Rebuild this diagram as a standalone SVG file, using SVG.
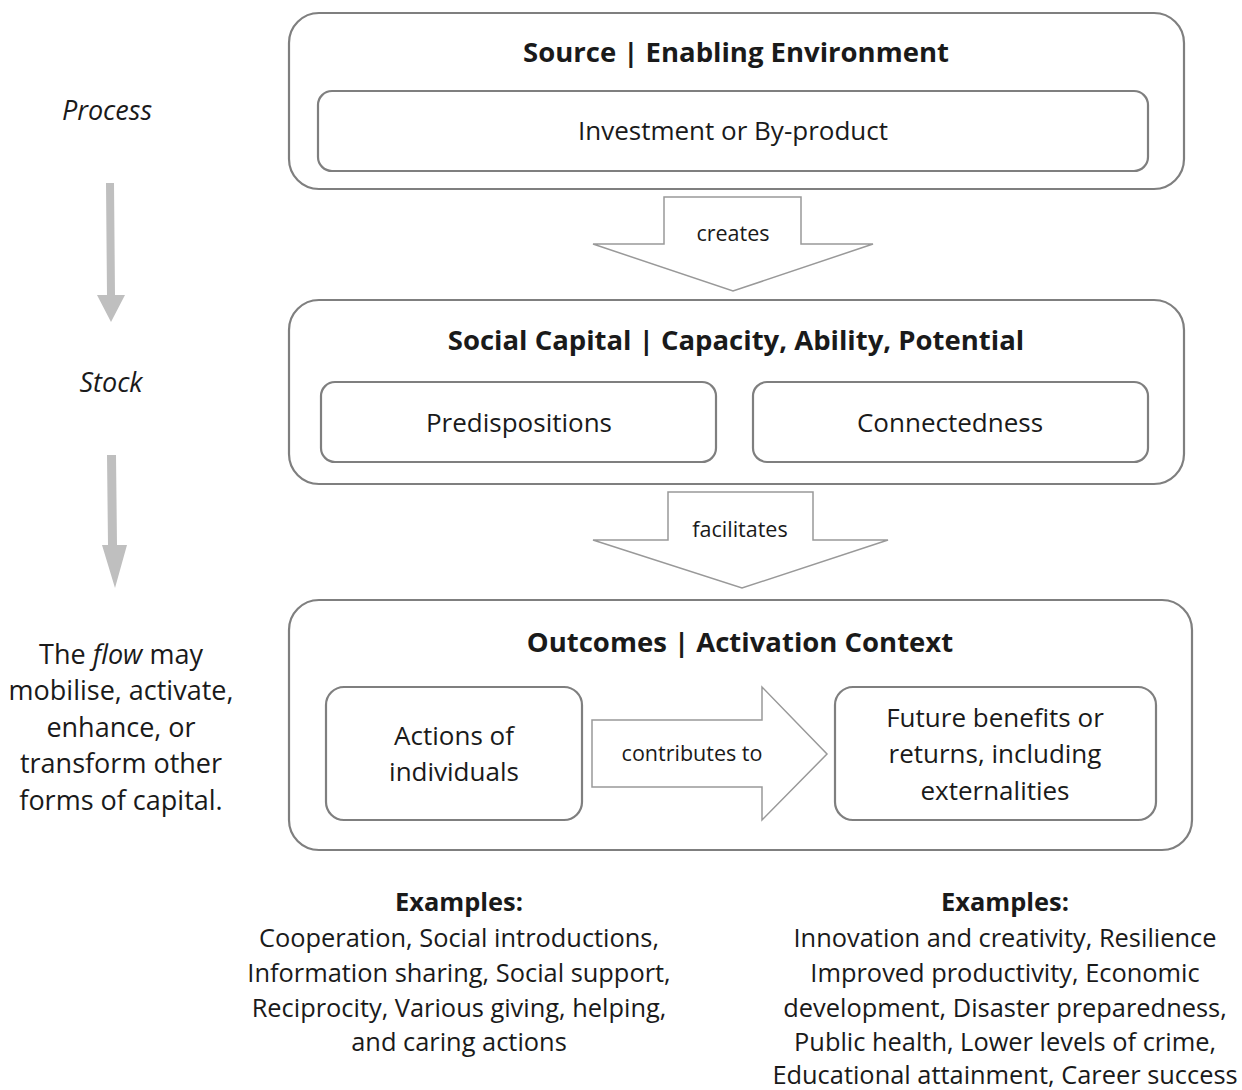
<svg xmlns="http://www.w3.org/2000/svg" width="1242" height="1090" viewBox="0 0 1242 1090">
  <style>
    text { font-family: "Open Sans", "Noto Sans", "Liberation Sans", sans-serif; fill: #1a1a1a; text-anchor: middle; }
    .outer { fill: #ffffff; stroke: #7f7f7f; stroke-width: 2.2; }
    .inner { fill: #ffffff; stroke: #7f7f7f; stroke-width: 2.2; }
    .title { font-size: 27.5px; font-weight: bold; }
    .label { font-size: 26px; }
    .ex { font-size: 25.4px; }
    .arrowlbl { font-size: 21.5px; }
    .block { fill: #ffffff; stroke: #999999; stroke-width: 1.5; }
    .side { font-size: 27px; }
    .flowarrow { fill: #bfbfbf; }
  </style>
  <rect width="1242" height="1090" fill="#ffffff"/>

  <!-- side column: process / stock / flow -->
  <g id="side-labels">
    <text class="side" x="107" y="120" font-style="italic">Process</text>
    <text class="side" x="111" y="392" font-style="italic">Stock</text>
    <text class="side" x="121" y="664">The <tspan font-style="italic">flow</tspan> may</text>
    <text class="side" x="121" y="700">mobilise, activate,</text>
    <text class="side" x="121" y="737">enhance, or</text>
    <text class="side" x="121" y="773">transform other</text>
    <text class="side" x="121" y="810">forms of capital.</text>
  </g>
  <g id="side-arrows">
    <path class="flowarrow" d="M106,183 L114,183 L115,295 L125,295 L111,322 L97,295 L107,295 Z"/>
    <path class="flowarrow" d="M107,455 L116,455 L117,545 L127,545 L115,588 L102,545 L108,545 Z"/>
  </g>

  <!-- source box -->
  <g id="source">
    <rect class="outer" x="289" y="13" width="895" height="176" rx="30"/>
    <text class="title" x="736" y="62">Source | Enabling Environment</text>
  </g>
  <g id="investment">
    <rect class="inner" x="318" y="91" width="830" height="80" rx="14"/>
    <text class="label" x="733" y="140">Investment or By-product</text>
  </g>

  <!-- social capital box -->
  <g id="social-capital">
    <rect class="outer" x="289" y="300" width="895" height="184" rx="30"/>
    <text class="title" x="736" y="350">Social Capital | Capacity, Ability, Potential</text>
  </g>
  <g id="predispositions">
    <rect class="inner" x="321" y="382" width="395" height="80" rx="14"/>
    <text class="label" x="519" y="432">Predispositions</text>
  </g>
  <g id="connectedness">
    <rect class="inner" x="753" y="382" width="395" height="80" rx="14"/>
    <text class="label" x="950" y="432">Connectedness</text>
  </g>

  <!-- outcomes box -->
  <g id="outcomes">
    <rect class="outer" x="289" y="600" width="903" height="250" rx="30"/>
    <text class="title" x="740" y="652">Outcomes | Activation Context</text>
  </g>
  <g id="actions">
    <rect class="inner" x="326" y="687" width="256" height="133" rx="18"/>
    <text class="label" x="454" y="745">Actions of</text>
    <text class="label" x="454" y="781">individuals</text>
  </g>
  <g id="benefits">
    <rect class="inner" x="835" y="687" width="321" height="133" rx="18"/>
    <text class="label" x="995" y="727">Future benefits or</text>
    <text class="label" x="995" y="763">returns, including</text>
    <text class="label" x="995" y="800">externalities</text>
  </g>

  <!-- block arrows between stages -->
  <g id="connectors">
    <g id="creates">
      <path class="block" d="M664,197 L801,197 L801,244 L873,244 L733,291 L593,244 L664,244 Z"/>
      <text class="arrowlbl" x="733" y="241">creates</text>
    </g>
    <g id="facilitates">
      <path class="block" d="M668,492 L813,492 L813,540 L888,540 L742,588 L593,540 L668,540 Z"/>
      <text class="arrowlbl" x="740" y="537">facilitates</text>
    </g>
    <g id="contributes">
      <path class="block" d="M592,720 L762,720 L762,687 L827,754 L762,820 L762,787 L592,787 Z"/>
      <text class="arrowlbl" x="692" y="761">contributes to</text>
    </g>
  </g>

  <!-- example lists -->
  <g id="examples-actions">
    <text class="ex" x="459" y="911" font-weight="bold">Examples:</text>
    <text class="ex" x="459" y="947">Cooperation, Social introductions,</text>
    <text class="ex" x="459" y="982">Information sharing, Social support,</text>
    <text class="ex" x="459" y="1017">Reciprocity, Various giving, helping,</text>
    <text class="ex" x="459" y="1051">and caring actions</text>
  </g>
  <g id="examples-benefits">
    <text class="ex" x="1005" y="911" font-weight="bold">Examples:</text>
    <text class="ex" x="1005" y="947">Innovation and creativity, Resilience</text>
    <text class="ex" x="1005" y="982">Improved productivity, Economic</text>
    <text class="ex" x="1005" y="1017">development, Disaster preparedness,</text>
    <text class="ex" x="1005" y="1051">Public health, Lower levels of crime,</text>
    <text class="ex" x="1005" y="1084">Educational attainment, Career success</text>
  </g>
</svg>
